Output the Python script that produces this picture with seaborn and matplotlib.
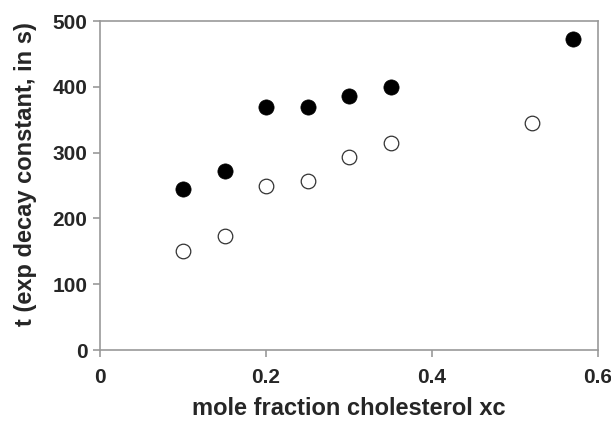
import pandas as pd
import seaborn as sns
import matplotlib.pyplot as plt

# datos
xc_lleno = [0.10, 0.15, 0.20, 0.25, 0.30, 0.35, 0.57]
t_lleno = [245, 272, 370, 370, 386, 400, 472]
xc_vacio = [0.10, 0.15, 0.20, 0.25, 0.30, 0.35, 0.52]
t_vacio = [150, 173, 250, 257, 294, 314, 345]

df_lleno = pd.DataFrame({'xc': xc_lleno, 't': t_lleno})
df_vacio = pd.DataFrame({'xc': xc_vacio, 't': t_vacio})

sns.set_style('white')
plt.rcParams['font.family'] = ['Liberation Sans', 'DejaVu Sans']

fig = plt.figure(figsize=(6.11, 4.22), dpi=100)
ax = fig.add_axes([0.1637, 0.1706, 0.815, 0.7796])

sns.scatterplot(data=df_lleno, x='xc', y='t', ax=ax, s=120, color='black',
                edgecolor='black', linewidth=0.5, zorder=3)
sns.scatterplot(data=df_vacio, x='xc', y='t', ax=ax, s=110, facecolor='white',
                edgecolor='#333333', linewidth=0.9, zorder=3)

ax.set_xlim(0, 0.6)
ax.set_ylim(0, 500)
ax.set_xticks([0, 0.2, 0.4, 0.6])
ax.set_xticklabels(['0', '0.2', '0.4', '0.6'])
ax.set_yticks([0, 100, 200, 300, 400, 500])

for sp in ax.spines.values():
    sp.set_color('#999999')
    sp.set_linewidth(1.2)

ax.tick_params(axis='both', direction='out', length=5, width=1.2, color='#999999',
               labelsize=15, pad=4, bottom=True, left=True)
ax.tick_params(axis='x', pad=8)
for lab in ax.get_xticklabels() + ax.get_yticklabels():
    lab.set_fontweight('bold')

ax.set_xlabel('mole fraction cholesterol xc', fontsize=17, fontweight='bold', labelpad=7)
ax.set_ylabel('t (exp decay constant, in s)', fontsize=17, fontweight='bold')
ax.yaxis.set_label_coords(-0.127, 0.535)

fig.savefig('out.png', dpi=100)
